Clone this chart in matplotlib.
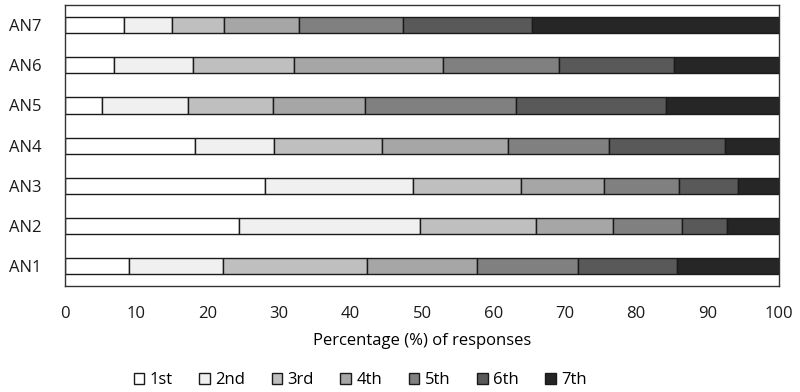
import numpy as np
import matplotlib.pyplot as plt
from matplotlib.patches import Patch

plt.rcParams['font.family'] = ['Open Sans', 'DejaVu Sans']

# Items, bottom to top
items = ['AN1', 'AN2', 'AN3', 'AN4', 'AN5', 'AN6', 'AN7']
ranks = ['1st', '2nd', '3rd', '4th', '5th', '6th', '7th']

# Percentage of responses per rank (rows follow items)
pct_1st = [9.0, 24.3, 28.0, 18.2, 5.2, 6.8, 8.3]
pct_2nd = [13.1, 25.4, 20.8, 11.1, 12.0, 11.1, 6.7]
pct_3rd = [20.2, 16.2, 15.1, 15.1, 11.9, 14.2, 7.3]
pct_4th = [15.4, 10.8, 11.6, 17.7, 12.9, 20.8, 10.5]
pct_5th = [14.1, 9.7, 10.5, 14.1, 21.1, 16.3, 14.5]
pct_6th = [13.9, 6.3, 8.3, 16.3, 21.1, 16.1, 18.1]
pct_7th = [14.3, 7.3, 5.7, 7.5, 15.8, 14.7, 34.6]

series = [pct_1st, pct_2nd, pct_3rd, pct_4th, pct_5th, pct_6th, pct_7th]
colors = ['#ffffff', '#f0f0f0', '#bfbfbf', '#a6a6a6', '#808080', '#595959', '#262626']

fig = plt.figure(figsize=(8, 3.92), dpi=100)
ax = fig.add_axes([0.08125, 0.270, 0.8925, 0.717])

y = np.arange(len(items))
left = np.zeros(len(items))
for vals, col, lab in zip(series, colors, ranks):
    vals = np.array(vals)
    ax.barh(y, vals, left=left, height=0.4, color=col, edgecolor='#1a1a1a',
            linewidth=1.0, label=lab)
    left += vals

ax.set_xlim(0, 100)
ax.set_ylim(-0.5, 6.5)
ax.set_xticks(np.arange(0, 101, 10))
ax.set_yticks(y)
ax.set_yticklabels(items)
ax.tick_params(length=0, labelsize=12, colors='#1a1a1a')
ax.tick_params(axis='x', pad=14)
ax.tick_params(axis='y', pad=17)
for s in ax.spines.values():
    s.set_linewidth(1.0)
    s.set_color('#333333')
ax.set_xlabel('Percentage (%) of responses', fontsize=12, labelpad=8)

handles = [Patch(facecolor=c, edgecolor='#1a1a1a', linewidth=1.0) for c in colors]
fig.legend(handles, ranks, loc='center', bbox_to_anchor=(0.45, 0.03),
           ncol=7, frameon=False, fontsize=12, handlelength=0.65,
           handleheight=0.65, handletextpad=0.3, columnspacing=1.6)

fig.savefig('out.png', dpi=100)
